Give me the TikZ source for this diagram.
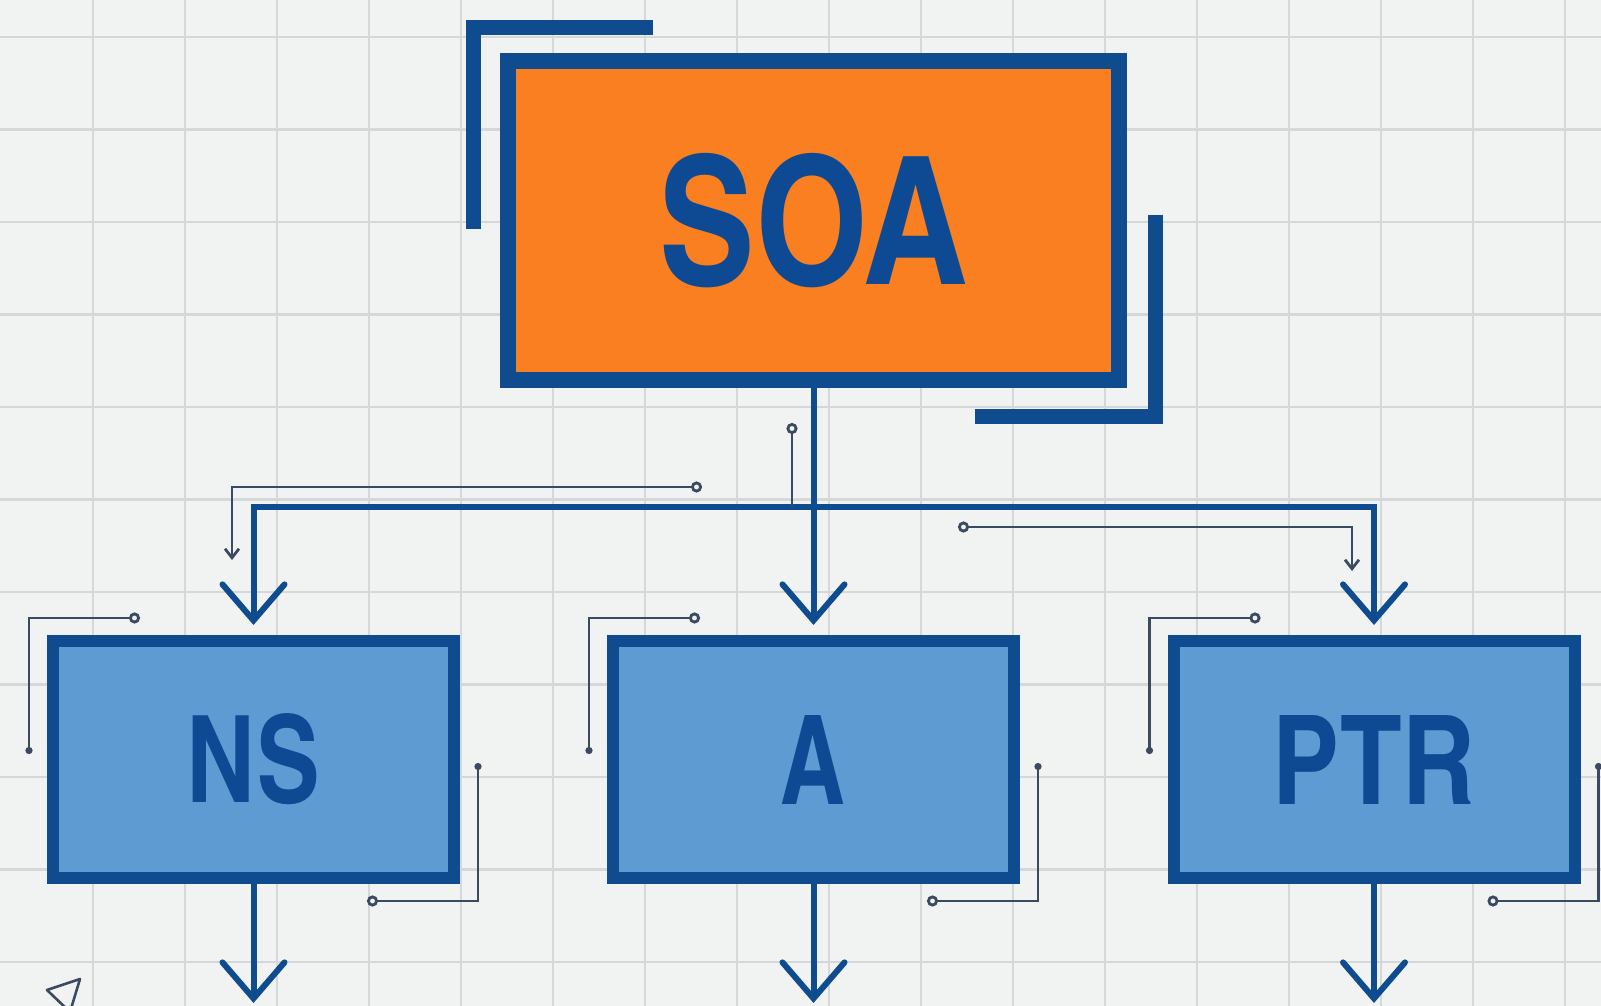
\documentclass[tikz,border=0pt]{standalone}
\usepackage{fontspec}
\setmainfont{TeX Gyre Heros}
\newfontfamily\labelfont{texgyreheroscn-bold.otf}
\usepackage{graphicx}
\usetikzlibrary{arrows.meta,calc}

\definecolor{paper}{HTML}{F1F3F3}
\definecolor{gridc}{HTML}{D5D8D9}
\definecolor{navy}{HTML}{0F4C8F}
\definecolor{inkblue}{HTML}{0E4A93}
\definecolor{soaorange}{HTML}{F97F20}
\definecolor{cellblue}{HTML}{5D9BD2}
\definecolor{tracec}{HTML}{3A4A60}

\tikzset{
  gridline/.style={draw=gridc, line width=2.4pt},
  topbox/.style={draw=navy, fill=soaorange, line width=16pt,
    minimum width=611pt, minimum height=319pt, inner sep=0pt, text=inkblue,
    font=\labelfont},
  recbox/.style={draw=navy, fill=cellblue, line width=12pt,
    minimum width=401pt, minimum height=237pt, inner sep=0pt, text=inkblue,
    font=\labelfont},
  bracket/.style={draw=navy, line width=15pt, line join=miter},
  bus/.style={draw=navy, line width=6pt},
  bigtip/.style={-{Straight Barb[length=36pt,width=62pt,line cap=round]}},
  trace/.style={draw=tracec, line width=2.8pt},
  ring/.tip={Circle[open,length=11pt,width=11pt]},
  pin/.tip={Circle[length=7pt,width=7pt]},
  smalltip/.tip={Straight Barb[length=9pt,width=14pt]},
}

\begin{document}
\begin{tikzpicture}[x=1pt,y=-1pt]
  % paper and grid
  \fill[paper] (0,0) rectangle (1601,1006);
  \useasboundingbox (0,0) rectangle (1601,1006);
  \foreach \gx in {0,...,16}{
    \draw[gridline] ({93+92*\gx},0) -- ({93+92*\gx},1006);
  }
  \foreach \gy in {0,...,10}{
    \draw[gridline] (0,{37+92.5*\gy}) -- (1601,{37+92.5*\gy});
  }

  % corner brackets around the root record
  \draw[bracket] (473,229) -- (473,27.5) -- (653,27.5);
  \draw[bracket] (1155,215) -- (1155,416) -- (975,416);

  % record boxes
  \node[topbox] (soa) at (813.5,220.5)
    {\resizebox{310pt}{131pt}{SOA}};
  \node[recbox] (ns)  at (253.5,759.5)
    {\resizebox{133pt}{89pt}{NS}};
  \node[recbox] (a)   at (813.5,759.5)
    {\resizebox{65pt}{89pt}{A}};
  \node[recbox] (ptr) at (1374,759.5)
    {\resizebox{202pt}{89pt}{PTR}};

  % branching connectors
  \coordinate (hub) at (813.5,507);
  \draw[bus,bigtip] (soa.south) -- ([yshift=10pt]a.north);
  \draw[bus,bigtip] (hub) -| ([yshift=10pt]ns.north);
  \draw[bus,bigtip] (hub) -| ([yshift=10pt]ptr.north);

  % outgoing arrows below each record
  \foreach \b in {ns,a,ptr}{
    \coordinate (\b-out) at ([yshift=-119pt]\b.south);
    \draw[bus,bigtip] (\b.south) -- (\b-out);
  }

  % circuit traces around the bus
  \coordinate (t1) at (792,423);
  \draw[trace,ring-] (t1) -- (t1 |- hub);
  \coordinate (t2) at (702,487);
  \coordinate (t2e) at (232,560);
  \draw[trace,ring-smalltip] (t2) -| (t2e);
  \coordinate (t3) at (958,527);
  \coordinate (t3e) at (1352,571);
  \draw[trace,ring-smalltip] (t3) -| (t3e);

  % circuit traces around each record
  \foreach \b in {ns,a,ptr}{
    \draw[trace,ring-pin] ([shift={(93,-17)}]\b.north west)
      -| ([shift={(-18,119)}]\b.north west);
    \draw[trace,ring-pin] ([shift={(-93,17)}]\b.south east)
      -| ([shift={(18,-121)}]\b.south east);
  }

  % small pointer mark in the lower left corner
  \draw[draw=tracec, line width=2.6pt, line join=round]
    (47,990) -- (80,979) -- (70,1012) -- cycle;
\end{tikzpicture}
\end{document}
